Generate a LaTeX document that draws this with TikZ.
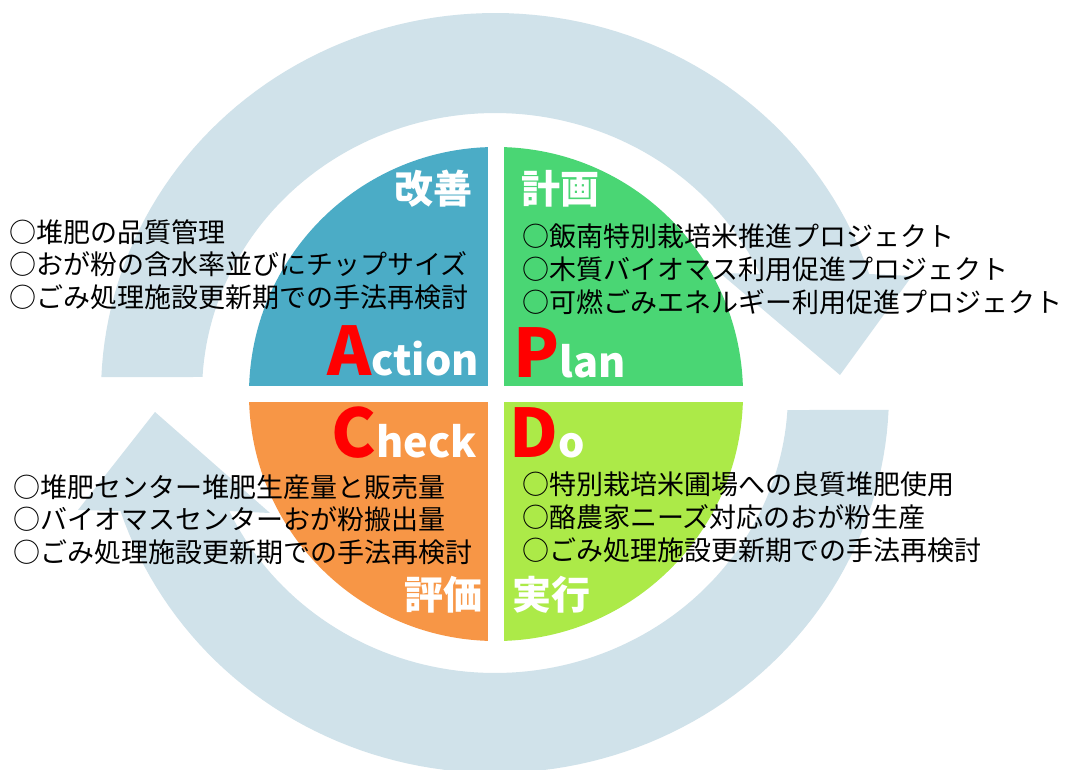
\documentclass[tikz,border=0pt]{standalone}
\usepackage{fontspec}
\setmainfont{Noto Sans CJK JP}
\definecolor{ring}{RGB}{208,226,234}
\definecolor{qA}{RGB}{75,172,198}
\definecolor{qP}{RGB}{74,214,116}
\definecolor{qC}{RGB}{247,150,70}
\definecolor{qD}{RGB}{172,234,72}
\definecolor{pdred}{RGB}{255,0,0}
\newcommand{\capL}[1]{{\color{pdred}\fontsize{67}{70}\selectfont #1}}
\begin{document}
\begin{tikzpicture}[x=1pt,y=-1pt,
  body/.style={inner sep=0pt, anchor=base west, font=\fontsize{27}{32}\selectfont, text=black},
  lab/.style={inner sep=0pt, font=\bfseries\fontsize{39}{44}\selectfont, text=white},
  big/.style={inner sep=0pt, font=\bfseries\fontsize{41.5}{46}\selectfont, text=white}]
\useasboundingbox (0,0) rectangle (1066,769);
\fill[white] (0,0) rectangle (1066,769);

% top circular arrow (clockwise, head on the right)
\fill[ring] plot[domain=182.4:341.75, samples=90] ({495+394*cos(\x)},{393+380*sin(\x)})
  -- (912,276) -- (840,375) -- (720,273)
  -- plot[domain=334.85:183.28, samples=90] ({495+293*cos(\x)},{393+280*sin(\x)}) -- cycle;

% bottom circular arrow (clockwise, head on the left)
\fill[ring] plot[domain=2.56:161.91, samples=90] ({495+394*cos(\x)},{393+380*sin(\x)})
  -- (78,510) -- (155,412) -- (270,513)
  -- plot[domain=155.07:3.48, samples=90] ({495+293*cos(\x)},{393+280*sin(\x)}) -- cycle;

% PDCA pie
\begin{scope}
\clip (496,394) circle[radius=247];
\fill[qA] (240,140) rectangle (488,386);
\fill[qP] (504,140) rectangle (750,386);
\fill[qC] (240,402) rectangle (488,650);
\fill[qD] (504,402) rectangle (750,650);
\end{scope}

% quadrant labels
\node[lab, anchor=base east] (kaizen) at (473,203) {改善};
\node[lab, anchor=base west] (keikaku) at (521,203) {計画};
\node[lab, anchor=base east] (hyoka) at (483,609) {評価};
\node[lab, anchor=base west] (jikko) at (512,609) {実行};

\node[big, anchor=base east] (act) at (479,375) {\capL{A}ction};
\node[big, anchor=base west] (plan) at (513,377) {\capL{P}lan};
\node[big, anchor=base east] (check) at (477,457) {\capL{C}heck};
\node[big, anchor=base west] (do) at (509,457) {\capL{D}o};

% body texts
\node[body] (a1) at (9,242.5) {○堆肥の品質管理};
\node[body] (a2) at (9,274.5) {○おが粉の含水率並びにチップサイズ};
\node[body] (a3) at (9,307.5) {○ごみ処理施設更新期での手法再検討};
\node[body] (p1) at (522,246.5) {○飯南特別栽培米推進プロジェクト};
\node[body] (p2) at (522,279.5) {○木質バイオマス利用促進プロジェクト};
\node[body] (p3) at (522,312) {○可燃ごみエネルギー利用促進プロジェクト};
\node[body] (c1) at (13,497.5) {○堆肥センター堆肥生産量と販売量};
\node[body] (c2) at (13,529.5) {○バイオマスセンターおが粉搬出量};
\node[body] (c3) at (13,562) {○ごみ処理施設更新期での手法再検討};
\node[body] (d1) at (522,494) {○特別栽培米圃場への良質堆肥使用};
\node[body] (d2) at (522,527) {○酪農家ニーズ対応のおが粉生産};
\node[body] (d3) at (522,560) {○ごみ処理施設更新期での手法再検討};
\end{tikzpicture}
\end{document}
